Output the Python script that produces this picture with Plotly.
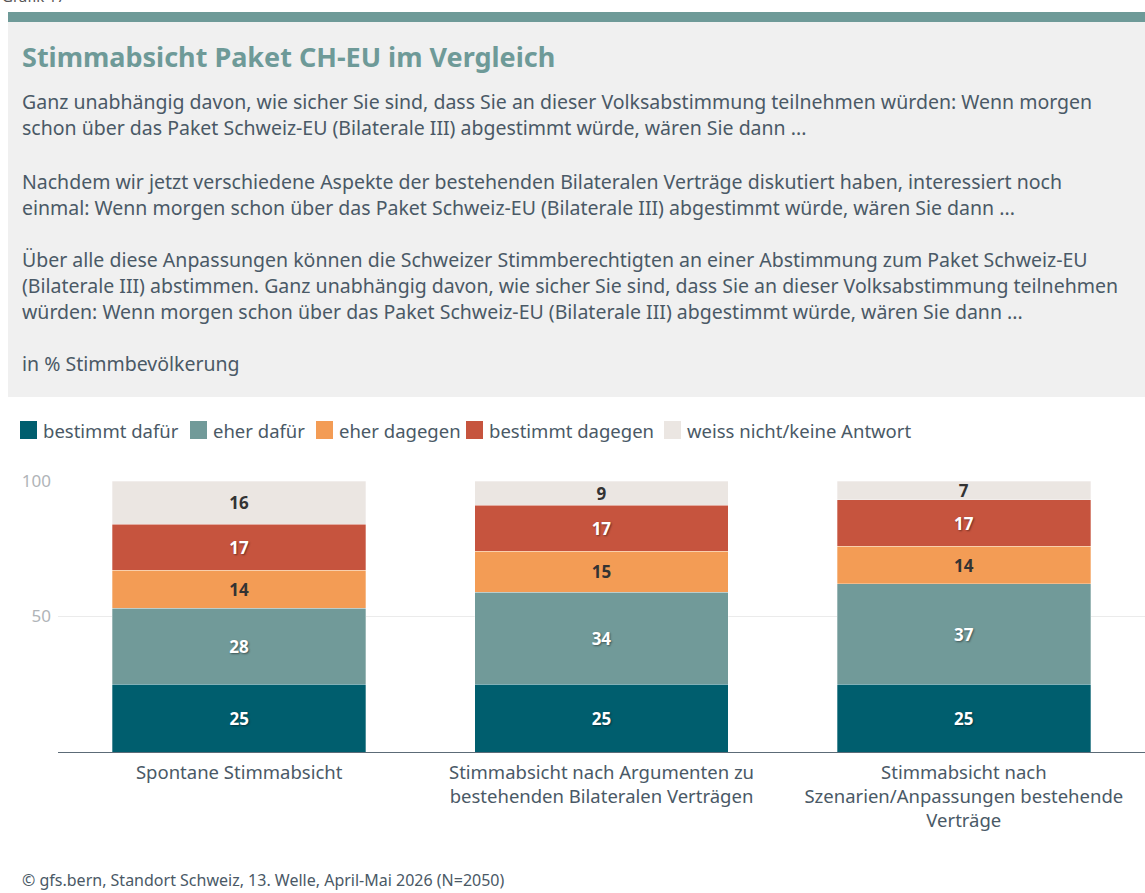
import plotly.graph_objects as go

# Daten
kategorien = [
    "Spontane Stimmabsicht",
    "Stimmabsicht nach Argumenten zu<br>bestehenden Bilateralen Verträgen",
    "Stimmabsicht nach<br>Szenarien/Anpassungen bestehende<br>Verträge",
]
bestimmt_dafuer = [25, 25, 25]
eher_dafuer = [28, 34, 37]
eher_dagegen = [14, 15, 14]
bestimmt_dagegen = [17, 17, 17]
weiss_nicht = [16, 9, 7]

serien = [
    ("bestimmt dafür", bestimmt_dafuer, "#005E6E", "white"),
    ("eher dafür", eher_dafuer, "#719A99", "white"),
    ("eher dagegen", eher_dagegen, "#F39C55", "#333333"),
    ("bestimmt dagegen", bestimmt_dagegen, "#C6543E", "white"),
    ("weiss nicht/keine Antwort", weiss_nicht, "#EBE6E2", "#333333"),
]

FONT = "Noto Sans"
TEXT_COL = "#4A5966"

# Plotbereich in Pixeln
L, R, T, B = 58, 1145, 481, 752


def px(x):
    return (x - L) / (R - L)


def py(y):
    return (B - y) / (B - T)


fig = go.Figure()
for name, werte, farbe, tfarbe in serien:
    fig.add_trace(go.Bar(
        name=name, x=kategorien, y=werte, showlegend=False,
        marker=dict(color=farbe, line=dict(color="rgba(255,255,255,0.6)", width=0.5)),
        text=werte, textposition="inside", insidetextanchor="middle",
        textangle=0, constraintext="none",
        textfont=dict(family=FONT, size=17, color=tfarbe, weight="bold",
                      shadow="1px 1px 2px rgba(0,0,0,0.45)" if tfarbe == "white" else "none"),
        hoverinfo="skip",
    ))

shapes = [
    # gruener Balken oben
    dict(type="rect", xref="paper", yref="paper", x0=px(8), x1=px(1145),
         y0=py(22), y1=py(12), fillcolor="#6E9A98", line=dict(width=0), layer="below"),
    # grauer Kasten
    dict(type="rect", xref="paper", yref="paper", x0=px(8), x1=px(1145),
         y0=py(397), y1=py(22), fillcolor="#F0F0F0", line=dict(width=0), layer="below"),
]

ann = [
    dict(text="Grafik 17", x=px(0), y=py(8), xanchor="left", yanchor="bottom",
         font=dict(family=FONT, size=15, color="#555555")),
    dict(text="<b>Stimmabsicht Paket CH-EU im Vergleich</b>", x=px(20), y=py(56),
         xanchor="left", yanchor="middle", font=dict(family=FONT, size=27, color="#6E9A98")),
]

absaetze = [
    (101, "Ganz unabhängig davon, wie sicher Sie sind, dass Sie an dieser Volksabstimmung teilnehmen würden: Wenn morgen"),
    (127, "schon über das Paket Schweiz-EU (Bilaterale III) abgestimmt würde, wären Sie dann ..."),
    (181, "Nachdem wir jetzt verschiedene Aspekte der bestehenden Bilateralen Verträge diskutiert haben, interessiert noch"),
    (207, "einmal: Wenn morgen schon über das Paket Schweiz-EU (Bilaterale III) abgestimmt würde, wären Sie dann ..."),
    (259, "Über alle diese Anpassungen können die Schweizer Stimmberechtigten an einer Abstimmung zum Paket Schweiz-EU"),
    (285, "(Bilaterale III) abstimmen. Ganz unabhängig davon, wie sicher Sie sind, dass Sie an dieser Volksabstimmung teilnehmen"),
    (311, "würden: Wenn morgen schon über das Paket Schweiz-EU (Bilaterale III) abgestimmt würde, wären Sie dann ..."),
    (363, "in % Stimmbevölkerung"),
]
for y, t in absaetze:
    ann.append(dict(text=t, x=px(20), y=py(y), xanchor="left", yanchor="middle",
                    font=dict(family=FONT, size=19.5, color=TEXT_COL)))

# Legende von Hand (Quadrat + Text)
legende_x = [20, 190, 316, 466, 664]
for (name, _, farbe, _), lx in zip(serien, legende_x):
    shapes.append(dict(type="rect", xref="paper", yref="paper",
                       x0=px(lx), x1=px(lx + 17), y0=py(439), y1=py(421),
                       fillcolor=farbe, line=dict(width=0)))
    ann.append(dict(text=name, x=px(lx + 21), y=py(430), xanchor="left", yanchor="middle",
                    font=dict(family=FONT, size=18.5, color=TEXT_COL)))

ann.append(dict(text="© gfs.bern, Standort Schweiz, 13. Welle, April-Mai 2026 (N=2050)",
                x=px(20), y=py(880), xanchor="left", yanchor="middle",
                font=dict(family=FONT, size=16, color=TEXT_COL)))

for a in ann:
    a.update(xref="paper", yref="paper", showarrow=False)

fig.update_layout(
    width=1145, height=893,
    margin=dict(l=L, r=1145 - R, t=T, b=893 - B, pad=0),
    barmode="stack", bargap=0.3,
    paper_bgcolor="white", plot_bgcolor="white",
    font=dict(family=FONT, color=TEXT_COL),
    shapes=shapes, annotations=ann,
    xaxis=dict(showline=True, linecolor="#5C6B77", linewidth=1, ticks="",
               tickfont=dict(family=FONT, size=18.5, color=TEXT_COL),
               ticklabelstandoff=4),
    yaxis=dict(range=[0, 100], tickvals=[50, 100], showgrid=True, gridcolor="#EBEBEB",
               zeroline=False, ticks="", tickfont=dict(family=FONT, size=17, color="#B0B4B8"),
               ticklabelstandoff=6),
)

fig.write_html("out.html", config={"displayModeBar": False},
               post_script="document.body.style.margin='0';")
